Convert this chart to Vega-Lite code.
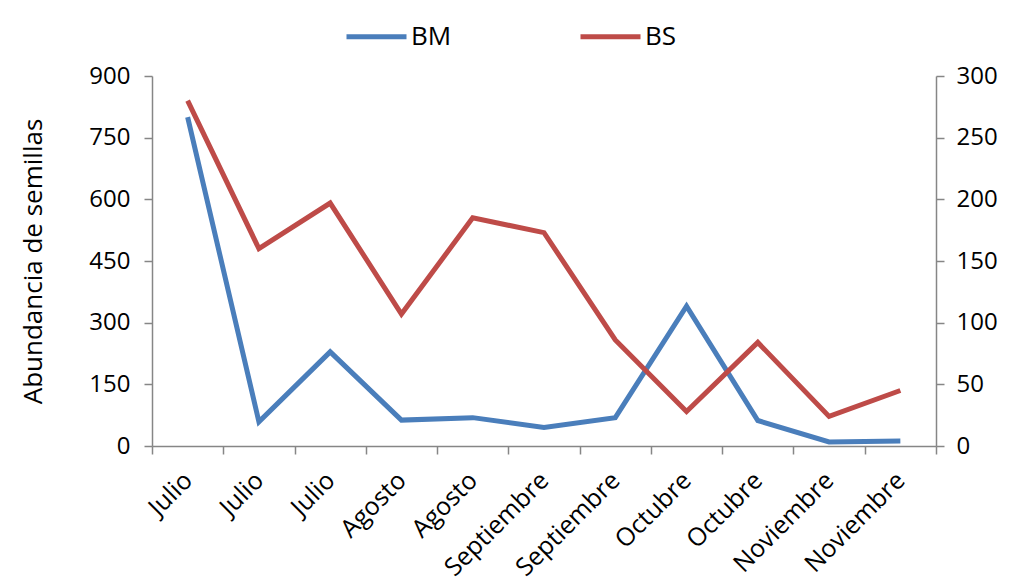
{
  "$schema": "https://vega.github.io/schema/vega-lite/v6.json",
  "width": 784,
  "height": 370,
  "autosize": "none",
  "padding": {"left": 152, "top": 76, "right": 76, "bottom": 139},
  "background": "white",
  "config": {
    "view": {"stroke": null},
    "font": "Open Sans",
    "axis": {
      "grid": false,
      "domainColor": "#868686",
      "tickColor": "#868686",
      "domainWidth": 1.5,
      "tickWidth": 1.5,
      "tickSize": 8,
      "labelColor": "#000000",
      "labelFont": "Open Sans",
      "titleFont": "Open Sans",
      "titleColor": "#000000",
      "titleFontWeight": "normal"
    }
  },
  "data": {
    "values": [
      {"orden": 1, "serie": "BM", "valor": 800},
      {"orden": 2, "serie": "BM", "valor": 59},
      {"orden": 3, "serie": "BM", "valor": 229},
      {"orden": 4, "serie": "BM", "valor": 63},
      {"orden": 5, "serie": "BM", "valor": 69},
      {"orden": 6, "serie": "BM", "valor": 45},
      {"orden": 7, "serie": "BM", "valor": 69},
      {"orden": 8, "serie": "BM", "valor": 340},
      {"orden": 9, "serie": "BM", "valor": 62},
      {"orden": 10, "serie": "BM", "valor": 10},
      {"orden": 11, "serie": "BM", "valor": 12},
      {"orden": 1, "serie": "BS", "valor": 280},
      {"orden": 2, "serie": "BS", "valor": 160},
      {"orden": 3, "serie": "BS", "valor": 197},
      {"orden": 4, "serie": "BS", "valor": 107},
      {"orden": 5, "serie": "BS", "valor": 185},
      {"orden": 6, "serie": "BS", "valor": 173},
      {"orden": 7, "serie": "BS", "valor": 86},
      {"orden": 8, "serie": "BS", "valor": 28},
      {"orden": 9, "serie": "BS", "valor": 84},
      {"orden": 10, "serie": "BS", "valor": 24},
      {"orden": 11, "serie": "BS", "valor": 45}
    ]
  },
  "encoding": {
    "x": {
      "field": "orden",
      "type": "ordinal",
      "bandPosition": 0.5,
      "scale": {"type": "band", "paddingInner": 0, "paddingOuter": 0},
      "axis": {
        "title": null,
        "tickBand": "extent",
        "labelAngle": -45,
        "labelAlign": "right",
        "labelBaseline": "middle",
        "labelFontSize": 25,
        "labelPadding": 22,
        "labelExpr": "['Julio','Julio','Julio','Agosto','Agosto','Septiembre','Septiembre','Octubre','Octubre','Noviembre','Noviembre'][datum.value - 1]"
      }
    },
    "color": {
      "field": "serie",
      "type": "nominal",
      "scale": {"domain": ["BM", "BS"], "range": ["#4A7EBB", "#BE4B48"]},
      "legend": {
        "title": null,
        "orient": "none",
        "legendX": 192,
        "legendY": -72,
        "direction": "horizontal",
        "symbolType": "stroke",
        "symbolSize": 3600,
        "symbolStrokeWidth": 5,
        "labelFontSize": 26,
        "labelOffset": 2,
        "labelFont": "Open Sans",
        "labelColor": "#000000",
        "columnPadding": 118
      }
    }
  },
  "layer": [
    {
      "transform": [{"filter": "datum.serie === 'BM'"}],
      "mark": {"type": "line", "strokeWidth": 5, "strokeJoin": "miter"},
      "encoding": {
        "y": {
          "field": "valor",
          "type": "quantitative",
          "scale": {"domain": [0, 900], "nice": false},
          "axis": {
            "title": "Abundancia de semillas",
            "titleFontSize": 26,
            "titlePadding": 42,
            "labelFontSize": 24,
            "labelPadding": 14,
            "values": [0, 150, 300, 450, 600, 750, 900]
          }
        }
      }
    },
    {
      "transform": [{"filter": "datum.serie === 'BS'"}],
      "mark": {"type": "line", "strokeWidth": 5, "strokeJoin": "miter"},
      "encoding": {
        "y": {
          "field": "valor",
          "type": "quantitative",
          "scale": {"domain": [0, 300], "nice": false},
          "axis": {
            "orient": "right",
            "title": null,
            "labelFontSize": 24,
            "labelPadding": 12,
            "values": [0, 50, 100, 150, 200, 250, 300]
          }
        }
      }
    }
  ],
  "resolve": {"scale": {"y": "independent"}}
}
